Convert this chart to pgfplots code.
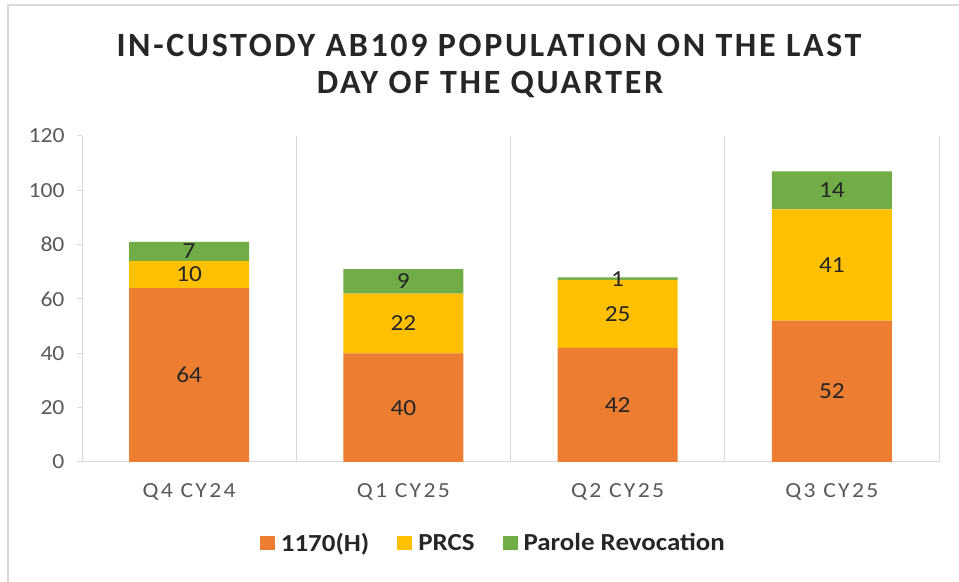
\documentclass[border=0pt]{standalone}
\usepackage{fontspec}
\setmainfont{Carlito}[FakeStretch=1.1]
\newfontfamily\titlefont{Carlito}[LetterSpace=7.8]
\newfontfamily\catfont{Carlito}[FakeStretch=1.1,LetterSpace=11]
\usepackage{pgfplots}
\pgfplotsset{compat=1.18}
\definecolor{cOrange}{HTML}{ED7D31}
\definecolor{cYellow}{HTML}{FFC000}
\definecolor{cGreen}{HTML}{70AD47}
\definecolor{cGrid}{HTML}{D9D9D9}
\definecolor{cTick}{HTML}{595959}
\definecolor{cText}{HTML}{262626}
\begin{document}
\begin{tikzpicture}
\path[use as bounding box] (0bp,0bp) rectangle (959bp,582bp);
\draw[color=cGrid, line width=1.5bp] (8bp,0bp) -- (8bp,577bp) -- (959bp,577bp);
\node[anchor=base, inner sep=0pt, text=cText, font=\titlefont\bfseries\fontsize{34bp}{38bp}\selectfont] at (489bp,525bp) {IN-CUSTODY AB109 POPULATION ON THE LAST};
\node[anchor=base, inner sep=0pt, text=cText, font=\titlefont\bfseries\fontsize{34bp}{38bp}\selectfont] at (490bp,488bp) {DAY OF THE QUARTER};
\begin{axis}[
  at={(82bp,120bp)}, anchor=south west,
  scale only axis, width=857bp, height=326bp,
  xmin=-0.5, xmax=3.5, ymin=0, ymax=120,
  ybar stacked, bar width=120bp,
  xtick={0,1,2,3},
  xticklabels={Q4 CY24, Q1 CY25, Q2 CY25, Q3 CY25},
  minor xtick={0.5,1.5,2.5,3.5},
  xminorgrids=true,
  minor grid style={color=cGrid, line width=1bp},
  minor tick length=0pt,
  xtick style={draw=none},
  ytick={0,20,...,120},
  ytick style={draw=cGrid, line width=1bp},
  tick align=outside,
  major tick length=5bp,
  axis x line*=bottom, axis y line*=left,
  axis line style={draw=cGrid, line width=1bp},
  /pgf/number format/assume math mode=true,
  yticklabel style={font=\fontsize{21.5bp}{24bp}\selectfont, text=cTick, xshift=-9bp},
  xticklabel style={font=\catfont\fontsize{21.5bp}{24bp}\selectfont, text=cTick, yshift=-13bp},
  visualization depends on={rawy \as \rawy},
  nodes near coords={\pgfmathprintnumber[fixed,precision=0]{\rawy}},
  every node near coord/.append style={anchor=center, font=\fontsize{23bp}{26bp}\selectfont, text=cText},
  legend style={at={(0.48,-0.248)}, anchor=center, draw=none, fill=none, inner sep=0pt,
    legend columns=3, font=\bfseries\fontsize{24.5bp}{27bp}\selectfont, text=cText,
    /tikz/every even column/.append style={column sep=26bp}},
  legend image code/.code={\fill[#1] (0bp,-7bp) rectangle (15bp,7bp); \path (19bp,0bp);},
  clip=false,
]
\addplot[fill=cOrange, draw=none] coordinates {(0,64) (1,40) (2,42) (3,52)};
\addlegendentry{1170(H)}
\addplot[fill=cYellow, draw=none] coordinates {(0,10) (1,22) (2,25) (3,41)};
\addlegendentry{PRCS}
\addplot[fill=cGreen, draw=none] coordinates {(0,7) (1,9) (2,1) (3,14)};
\addlegendentry{Parole Revocation}
\end{axis}
\end{tikzpicture}
\end{document}
